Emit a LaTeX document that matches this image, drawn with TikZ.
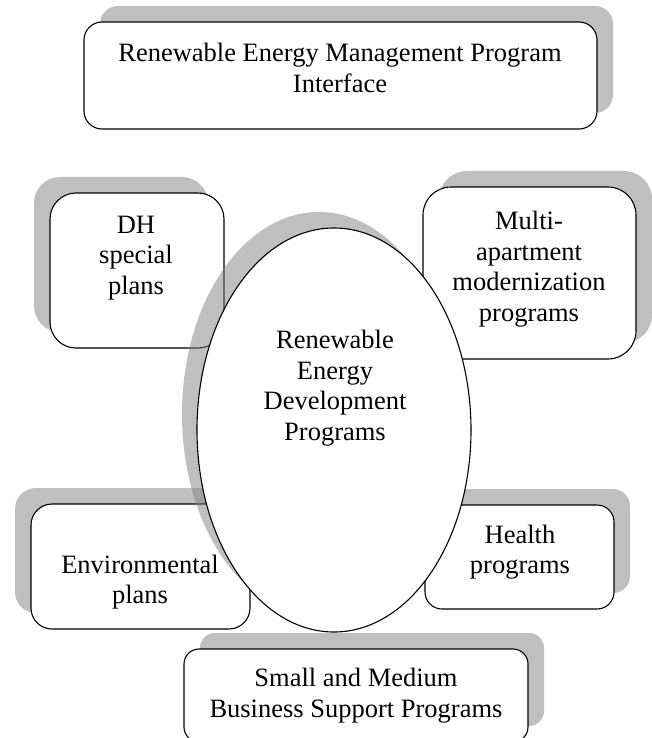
\documentclass[tikz,border=0pt]{standalone}
\usepackage{fontspec}
\setmainfont{Liberation Serif}
\usepackage{tikz}
\usetikzlibrary{shapes.geometric}
\usetikzlibrary{shadows}
\newcommand\linewd{1.1pt}
\tikzstyle{plan}        = [draw, line width=\linewd, fill=white, inner sep=0pt]
\tikzstyle{shade right} = [drop shadow={shadow xshift=16pt, shadow yshift=16pt, opacity=.5, fill=black!50}]
\tikzstyle{shade left}  = [drop shadow={shadow xshift=-16pt, shadow yshift=16pt, opacity=.5, fill=black!50}]
\tikzstyle{plantext}    = [align=center, inner sep=0pt, font=\fontsize{26.5}{30.5}\selectfont]

\begin{document}
\begin{tikzpicture}[x=1pt, y=-1pt]
  \useasboundingbox (0,0) rectangle (652,738);
  \clip (0,0) rectangle (652,738);
  \draw (340.5,75.5) node (mgmt) [plan, shade right, rounded corners=18pt, minimum width=513pt, minimum height=107pt] {};
  \draw (137,270.5) node (dh) [plan, shade left, rounded corners=26pt, minimum width=174pt, minimum height=155pt] {};
  \draw (529.5,273) node (multi) [plan, shade right, rounded corners=28pt, minimum width=213pt, minimum height=172pt] {};
  \draw (140.5,566.5) node (env) [plan, shade left, rounded corners=21pt, minimum width=219pt, minimum height=125pt] {};
  \draw (519.5,557) node (health) [plan, shade right, rounded corners=17pt, minimum width=189pt, minimum height=104pt] {};
  \draw (356,695.5) node (sme) [plan, shade right, rounded corners=15pt, minimum width=344pt, minimum height=93pt] {};
  \draw (334,430) node (core) [plan, ellipse, drop shadow={shadow xshift=-15pt, shadow yshift=16pt, opacity=.5, fill=black!50}, minimum width=274pt, minimum height=404pt] {};
  \draw (340,68) node (mgmttext) [plantext] {Renewable Energy Management Program\\Interface};
  \draw (136,258) node (dhtext) [plantext] {DH\\special\\plans};
  \draw (529,269) node (multitext) [plantext] {Multi-\\apartment\\modernization\\programs};
  \draw (335,388) node (coretext) [plantext] {Renewable\\Energy\\Development\\Programs};
  \draw (140,582) node (envtext) [plantext] {Environmental\\plans};
  \draw (520,552) node (healthtext) [plantext] {Health\\programs};
  \draw (356,695.5) node (smetext) [plantext] {Small and Medium\\Business Support Programs};
\end{tikzpicture}
\end{document}
